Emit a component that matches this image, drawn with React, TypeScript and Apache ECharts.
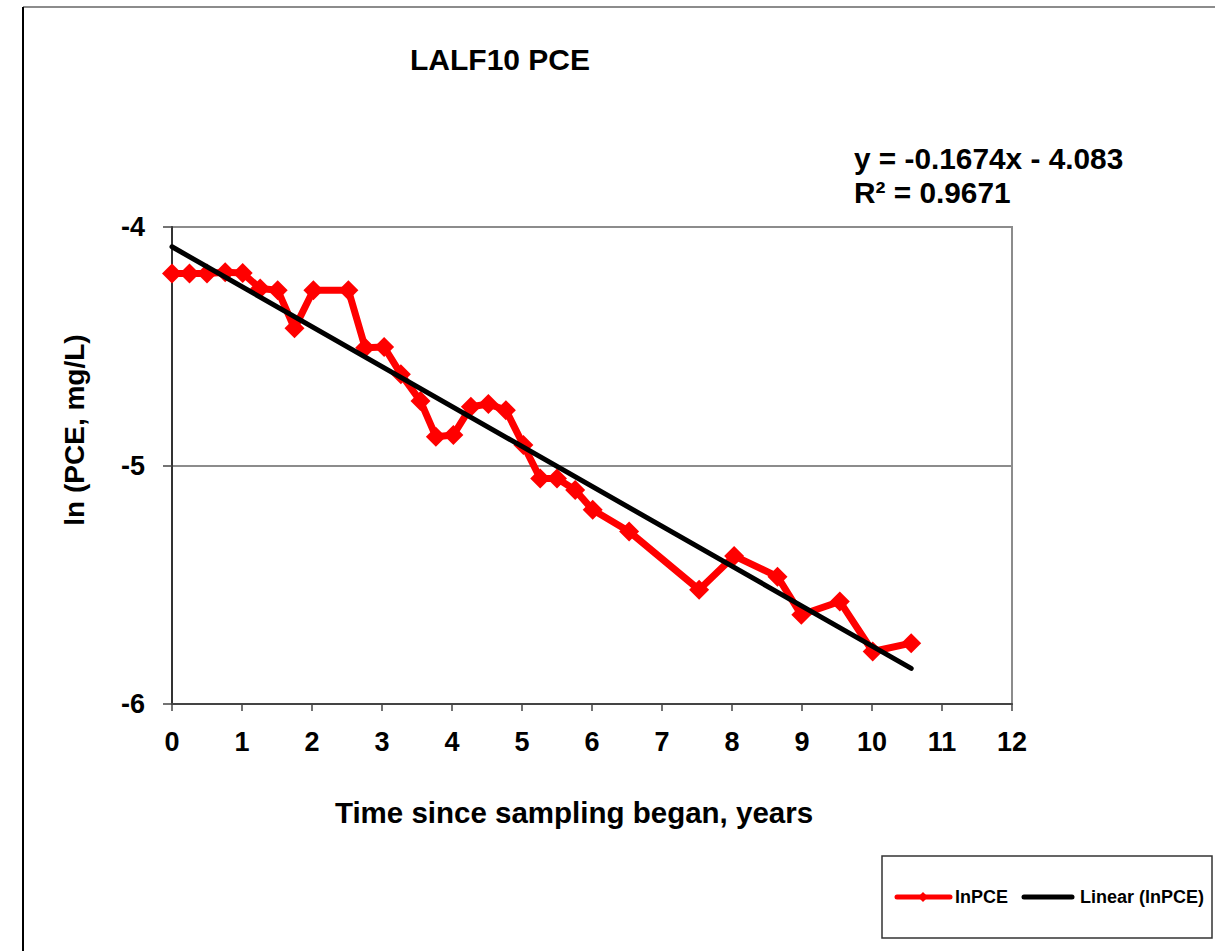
import React, { useEffect, useRef } from "react";
import * as echarts from "echarts";

const years = [
  0, 0.25, 0.5, 0.76, 1.01, 1.26, 1.51, 1.75, 2.02, 2.52, 2.76, 3.03, 3.27, 3.55, 3.77, 4.02,
  4.27, 4.52, 4.77, 5.02, 5.26, 5.5, 5.76, 6.01, 6.53, 7.53, 8.03, 8.65, 8.99, 9.54, 10.01, 10.56,
];
const lnPCE = [
  -4.195, -4.195, -4.195, -4.19, -4.193, -4.258, -4.265, -4.425, -4.265, -4.265, -4.506, -4.503,
  -4.617, -4.73, -4.879, -4.872, -4.754, -4.742, -4.768, -4.914, -5.054, -5.054, -5.103, -5.186,
  -5.277, -5.521, -5.379, -5.466, -5.626, -5.57, -5.78, -5.745,
];
const trendSlope = -0.1674;
const trendIntercept = -4.083;
const trendRange = [0, 10.56];

const titleText = "LALF10 PCE";
const equationLines = ["y = -0.1674x - 4.083", "R² = 0.9671"];
const xAxisTitle = "Time since sampling began, years";
const yAxisTitle = "ln (PCE, mg/L)";
const seriesNames = ["lnPCE", "Linear (lnPCE)"];

const FONT = "'Liberation Sans', Arial, Helvetica, sans-serif";

export default function App() {
  const ref = useRef<HTMLDivElement>(null);
  useEffect(() => {
    if (!ref.current) return;
    const chart = echarts.init(ref.current, undefined, { renderer: "svg" });
    const legendY = 897;
    const option: any = {
      animation: false,
      backgroundColor: "#ffffff",
      textStyle: { fontFamily: FONT },
      grid: {
        left: 172,
        top: 227,
        width: 840,
        height: 477,
        show: true,
        borderColor: "#8c8c8c",
        borderWidth: 2,
        backgroundColor: "transparent",
      },
      xAxis: {
        type: "value",
        min: 0,
        max: 12,
        interval: 1,
        axisLine: { show: true, onZero: false, lineStyle: { color: "#444", width: 2 } },
        axisTick: { show: true, length: 7, lineStyle: { color: "#444", width: 1.5 } },
        axisLabel: { fontSize: 27, fontWeight: "bold", color: "#000", fontFamily: FONT, margin: 24 },
        splitLine: { show: false },
      },
      yAxis: {
        type: "value",
        min: -6,
        max: -4,
        interval: 1,
        axisLine: { show: true, onZero: false, lineStyle: { color: "#333", width: 2 } },
        axisTick: { show: true, length: 9, lineStyle: { color: "#444", width: 1.5 } },
        axisLabel: { fontSize: 27, fontWeight: "bold", color: "#000", fontFamily: FONT, margin: 27 },
        splitLine: { show: true, lineStyle: { color: "#8c8c8c", width: 2 } },
      },
      series: [
        {
          name: seriesNames[0],
          type: "line",
          data: years.map((x, i) => [x, lnPCE[i]]),
          color: "#ff0000",
          lineStyle: { color: "#ff0000", width: 7 },
          itemStyle: { color: "#ff0000" },
          symbol: "diamond",
          symbolSize: 20,
          z: 2,
        },
        {
          name: seriesNames[1],
          type: "line",
          data: trendRange.map((x) => [x, trendSlope * x + trendIntercept]),
          color: "#000000",
          lineStyle: { color: "#000000", width: 5, cap: "round" },
          showSymbol: false,
          symbol: "none",
          z: 3,
        },
      ],
      graphic: [
        { type: "line", shape: { x1: 23, y1: 7, x2: 1215, y2: 7 }, style: { stroke: "#8c8c8c", lineWidth: 2 } },
        { type: "line", shape: { x1: 23, y1: 7, x2: 23, y2: 951 }, style: { stroke: "#000", lineWidth: 2 } },
        {
          type: "text",
          x: 500,
          y: 59,
          style: {
            text: titleText,
            font: `bold 30px ${FONT}`,
            fill: "#000",
            textAlign: "center",
            textVerticalAlign: "middle",
          },
        },
        {
          type: "text",
          x: 854,
          y: 158,
          style: {
            text: equationLines[0],
            font: `bold 29.8px ${FONT}`,
            fill: "#000",
            textAlign: "left",
            textVerticalAlign: "middle",
          },
        },
        {
          type: "text",
          x: 854,
          y: 192,
          style: {
            text: equationLines[1],
            font: `bold 29.8px ${FONT}`,
            fill: "#000",
            textAlign: "left",
            textVerticalAlign: "middle",
          },
        },
        {
          type: "text",
          x: 574,
          y: 812,
          style: {
            text: xAxisTitle,
            font: `bold 29.5px ${FONT}`,
            fill: "#000",
            textAlign: "center",
            textVerticalAlign: "middle",
          },
        },
        {
          type: "text",
          x: 74,
          y: 430,
          rotation: Math.PI / 2,
          style: {
            text: yAxisTitle,
            font: `bold 28px ${FONT}`,
            fill: "#000",
            textAlign: "center",
            textVerticalAlign: "middle",
          },
        },
        {
          type: "rect",
          shape: { x: 882, y: 856, width: 330, height: 82 },
          style: { fill: "none", stroke: "#333", lineWidth: 1.5 },
        },
        {
          type: "line",
          shape: { x1: 897, y1: legendY, x2: 950, y2: legendY },
          style: { stroke: "#ff0000", lineWidth: 5, lineCap: "round" },
        },
        {
          type: "polygon",
          shape: {
            points: [
              [923, legendY - 5],
              [928, legendY],
              [923, legendY + 5],
              [918, legendY],
            ],
          },
          style: { fill: "#ff0000" },
        },
        {
          type: "text",
          x: 955,
          y: legendY,
          style: {
            text: seriesNames[0],
            font: `bold 18px ${FONT}`,
            fill: "#000",
            textAlign: "left",
            textVerticalAlign: "middle",
          },
        },
        {
          type: "line",
          shape: { x1: 1024, y1: legendY, x2: 1072, y2: legendY },
          style: { stroke: "#000", lineWidth: 5, lineCap: "round" },
        },
        {
          type: "text",
          x: 1080,
          y: legendY,
          style: {
            text: seriesNames[1],
            font: `bold 18px ${FONT}`,
            fill: "#000",
            textAlign: "left",
            textVerticalAlign: "middle",
          },
        },
      ],
    };
    chart.setOption(option);
    return () => chart.dispose();
  }, []);
  return (
    <div
      ref={ref}
      style={{ position: "absolute", left: 0, top: 0, width: 1215, height: 951, background: "#fff" }}
    />
  );
}
